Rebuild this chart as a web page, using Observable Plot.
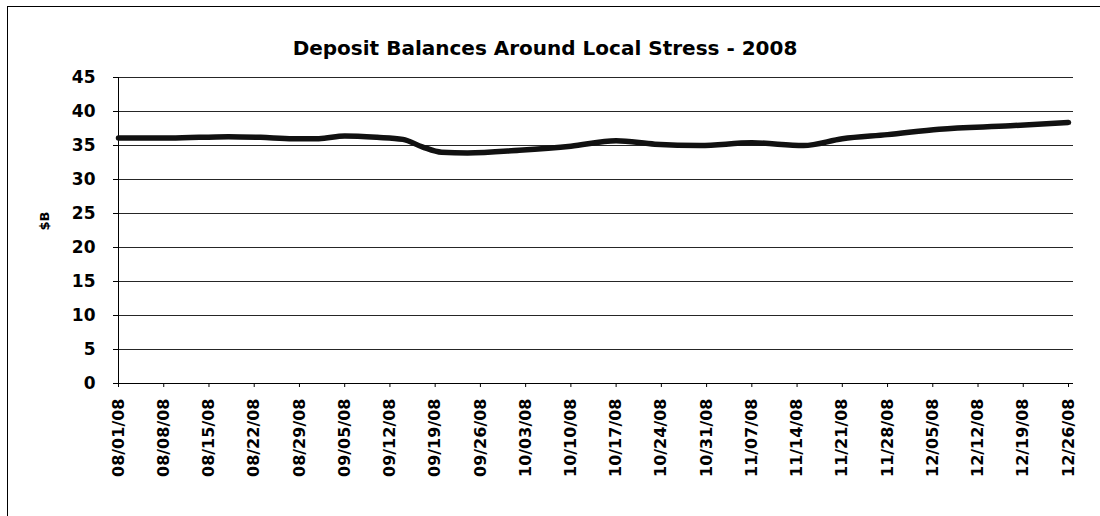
<!DOCTYPE html>
<html><head><meta charset="utf-8">
<script src="https://cdn.jsdelivr.net/npm/d3@7"></script>
<script src="https://cdn.jsdelivr.net/npm/@observablehq/plot@0.6"></script>
<style>
body{margin:0;background:#fff;}
#wrap{position:relative;width:1100px;height:516px;overflow:hidden;}
#border{position:absolute;left:7px;top:6px;width:1300px;height:600px;border-left:1px solid #000;border-top:1px solid #000;pointer-events:none;}
#chart{position:absolute;left:0;top:0;}
</style></head><body><div id="wrap"><div id="chart"></div><div id="border"></div></div>
<script>
const title = "Deposit Balances Around Local Stress - 2008";
const yLabel = "$B";
const tickDates = ["2008-08-01","2008-08-08","2008-08-15","2008-08-22","2008-08-29","2008-09-05","2008-09-12","2008-09-19","2008-09-26","2008-10-03","2008-10-10","2008-10-17","2008-10-24","2008-10-31","2008-11-07","2008-11-14","2008-11-21","2008-11-28","2008-12-05","2008-12-12","2008-12-19","2008-12-26"];
const yTicks = [0,5,10,15,20,25,30,35,40,45];
const lineDates = ["2008-08-01","2008-08-09","2008-08-18","2008-08-23","2008-08-28","2008-09-01","2008-09-05","2008-09-10","2008-09-14","2008-09-17","2008-09-20","2008-09-24","2008-10-02","2008-10-10","2008-10-17","2008-10-23","2008-10-30","2008-11-07","2008-11-15","2008-11-21","2008-11-28","2008-12-06","2008-12-17","2008-12-26"];
const deposits = [36.1,36.1,36.3,36.2,36.0,36.0,36.4,36.2,35.9,34.8,34.0,33.9,34.3,34.9,35.7,35.2,35.0,35.4,35.0,36.0,36.6,37.4,37.9,38.4];

const parse = d3.utcParse("%Y-%m-%d");
const data = lineDates.map((d, i) => ({date: parse(d), value: deposits[i]}));
const ticks = tickDates.map(parse);
const font = "'DejaVu Sans', 'Liberation Sans', Arial, sans-serif";

const chart = Plot.plot({
  width: 1100, height: 516,
  marginLeft: 118, marginRight: 27, marginTop: 77, marginBottom: 133,
  style: {fontFamily: font, fontWeight: "bold", background: "transparent", color: "#000", overflow: "visible"},
  x: {type: "utc", domain: [ticks[0], ticks[ticks.length - 1]], insetRight: 5},
  y: {domain: [0, 45]},
  marks: [
    Plot.gridY(yTicks, {stroke: "#000", strokeOpacity: 0.85, strokeWidth: 1}),
    Plot.ruleY([0], {stroke: "#000", strokeWidth: 1}),
    Plot.ruleX([ticks[0]], {stroke: "#000", strokeWidth: 1}),
    Plot.axisY(yTicks, {tickSize: 5, tickPadding: 18, fontSize: 17, label: null}),
    Plot.axisX(ticks, {tickRotate: -90, tickFormat: d3.utcFormat("%m/%d/%y"), tickSize: 4, tickPadding: 11, fontSize: 16, label: null}),
    Plot.line(data, {x: "date", y: "value", stroke: "#111", strokeWidth: 5.5, curve: "monotone-x"}),
    Plot.text([yLabel], {frameAnchor: "left", dx: -74, rotate: -90, fontSize: 13, fontWeight: "bold"}),
    Plot.text([title], {frameAnchor: "top", dy: -37, dx: -51, fontSize: 20, fontWeight: "bold"})
  ]
});
document.getElementById("chart").appendChild(chart);
</script></body></html>
